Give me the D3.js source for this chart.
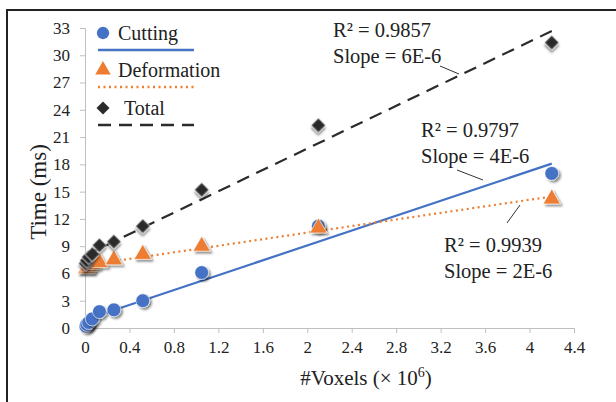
<!DOCTYPE html>
<html>
<head>
<meta charset="utf-8">
<script src="https://cdn.jsdelivr.net/npm/d3@7"></script>
<style>
  body { margin: 0; background: #fff; }
  svg { display: block; font-family: "Liberation Serif", "Times New Roman", serif; }
</style>
</head>
<body>
<svg id="chart"></svg>
<script>
const voxels = [0.008, 0.016, 0.033, 0.065, 0.13, 0.26, 0.52, 1.05, 2.1, 4.2];
const cutting = [0.2, 0.4, 0.6, 1.0, 1.8, 2.0, 3.0, 6.1, 11.2, 17.0];
const deformation = [6.5, 6.6, 6.8, 7.0, 7.2, 7.5, 8.1, 9.0, 11.0, 14.2];
const total = [7.1, 7.4, 7.8, 8.1, 9.1, 9.5, 11.2, 15.2, 22.3, 31.4];
const seriesNames = ["Cutting", "Deformation", "Total"];
const xTicks = [0, 0.4, 0.8, 1.2, 1.6, 2, 2.4, 2.8, 3.2, 3.6, 4, 4.4];
const yTicks = [0, 3, 6, 9, 12, 15, 18, 21, 24, 27, 30, 33];
const fitLabels = [["R² = 0.9797", "Slope = 4E-6"], ["R² = 0.9939", "Slope = 2E-6"], ["R² = 0.9857", "Slope = 6E-6"]];

const width = 616, height = 402;
const margin = { top: 28, right: 42, bottom: 74, left: 85 };

const svg = d3.select("#chart").attr("width", width).attr("height", height);

const defs = svg.append("defs");
const f = defs.append("filter").attr("id", "shadow").attr("x", "-50%").attr("y", "-50%").attr("width", "200%").attr("height", "200%");
f.append("feDropShadow").attr("dx", 2).attr("dy", 2).attr("stdDeviation", 1.2).attr("flood-color", "#000").attr("flood-opacity", 0.45);

const x = d3.scaleLinear().domain([0, 4.4]).range([margin.left, width - margin.right]);
const y = d3.scaleLinear().domain([0, 33]).range([height - margin.bottom, margin.top]);

// frame (top and left only, image is cropped)
svg.append("path").attr("d", `M7,${height} V10 H${width}`).attr("fill", "none").attr("stroke", "#222").attr("stroke-width", 2);

const xAxis = svg.append("g")
    .attr("transform", `translate(0,${y(0)})`)
    .call(d3.axisBottom(x).tickValues(xTicks).tickFormat(d3.format("")).tickSize(5).tickPadding(8));
const yAxis = svg.append("g")
    .attr("transform", `translate(${x(0)},0)`)
    .call(d3.axisLeft(y).tickValues(yTicks).tickSize(5).tickPadding(10));
[xAxis, yAxis].forEach(a => {
    a.select(".domain").attr("stroke", "#bfbfbf");
    a.selectAll(".tick line").attr("stroke", "#bfbfbf");
    a.selectAll("text").attr("font-family", "Liberation Serif").attr("font-size", 17).attr("fill", "#222");
});

svg.append("text").attr("x", 366).attr("y", 385).attr("text-anchor", "middle")
    .attr("font-size", 21).attr("fill", "#222")
    .html("#Voxels (× 10<tspan dy='-8' font-size='14'>6</tspan><tspan dy='8'>)</tspan>");
svg.append("text").attr("transform", `translate(46,192) rotate(-90)`)
    .attr("text-anchor", "middle").attr("font-size", 23).attr("fill", "#222").text("Time (ms)");

const series = [
    { name: seriesNames[0], vals: cutting, color: "#4472C4", dash: null, sym: d3.symbolCircle, size: 150, rot: 0 },
    { name: seriesNames[1], vals: deformation, color: "#ED7D31", dash: "2,3.5", sym: d3.symbolTriangle, size: 130, rot: 0 },
    { name: seriesNames[2], vals: total, color: "#2b2b2b", dash: "13,8", sym: d3.symbolSquare, size: 105, rot: 45 }
];

function fit(xs, ys) {
    const mx = d3.mean(xs), my = d3.mean(ys);
    const slope = d3.sum(xs, (v, i) => (v - mx) * (ys[i] - my)) / d3.sum(xs, v => (v - mx) ** 2);
    return { slope, icpt: my - slope * mx };
}

// trendlines
series.forEach(s => {
    const r = fit(voxels, s.vals);
    const x0 = d3.min(voxels), x1 = d3.max(voxels);
    svg.append("line")
        .attr("x1", x(x0)).attr("y1", y(r.icpt + r.slope * x0))
        .attr("x2", x(x1)).attr("y2", y(r.icpt + r.slope * x1))
        .attr("stroke", s.color).attr("stroke-width", 2.2)
        .attr("stroke-dasharray", s.dash);
});

// markers
series.forEach(s => {
    svg.append("g").selectAll("path").data(voxels).enter().append("path")
        .attr("transform", (d, i) => `translate(${x(d)},${y(s.vals[i])}) rotate(${s.rot})`)
        .attr("d", d3.symbol().type(s.sym).size(s.size))
        .attr("fill", s.color)
        .attr("stroke", "#fff").attr("stroke-width", 0.6)
        .attr("filter", "url(#shadow)");
});

// legend
const legend = svg.append("g");
const legY = [33, 70, 108];
series.forEach((s, i) => {
    legend.append("path").attr("transform", `translate(103,${legY[i]}) rotate(${s.rot})`)
        .attr("d", d3.symbol().type(s.sym).size(s.size * 0.8)).attr("fill", s.color);
    legend.append("text").attr("x", i === 2 ? 124 : 118).attr("y", legY[i] + 7)
        .attr("font-size", 20).attr("fill", "#222").text(s.name);
    legend.append("line").attr("x1", 98).attr("x2", 194)
        .attr("y1", legY[i] + 17).attr("y2", legY[i] + 17)
        .attr("stroke", s.color).attr("stroke-width", 2.4)
        .attr("stroke-dasharray", s.dash);
});

// fit annotations
const notePos = [[421, 137], [444, 252], [333, 37]];
const leaders = [[[457, 170], [483, 180]], [[507, 223], [520, 205]], [[440, 66], [459, 74]]];
fitLabels.forEach((lab, i) => {
    const g = svg.append("g");
    lab.forEach((t, j) => {
        g.append("text").attr("x", notePos[i][0]).attr("y", notePos[i][1] + j * 26)
            .attr("font-size", 20.5).attr("fill", "#222").text(t);
    });
    svg.append("line").attr("x1", leaders[i][0][0]).attr("y1", leaders[i][0][1])
        .attr("x2", leaders[i][1][0]).attr("y2", leaders[i][1][1])
        .attr("stroke", "#333").attr("stroke-width", 1);
});
</script>
</body>
</html>
